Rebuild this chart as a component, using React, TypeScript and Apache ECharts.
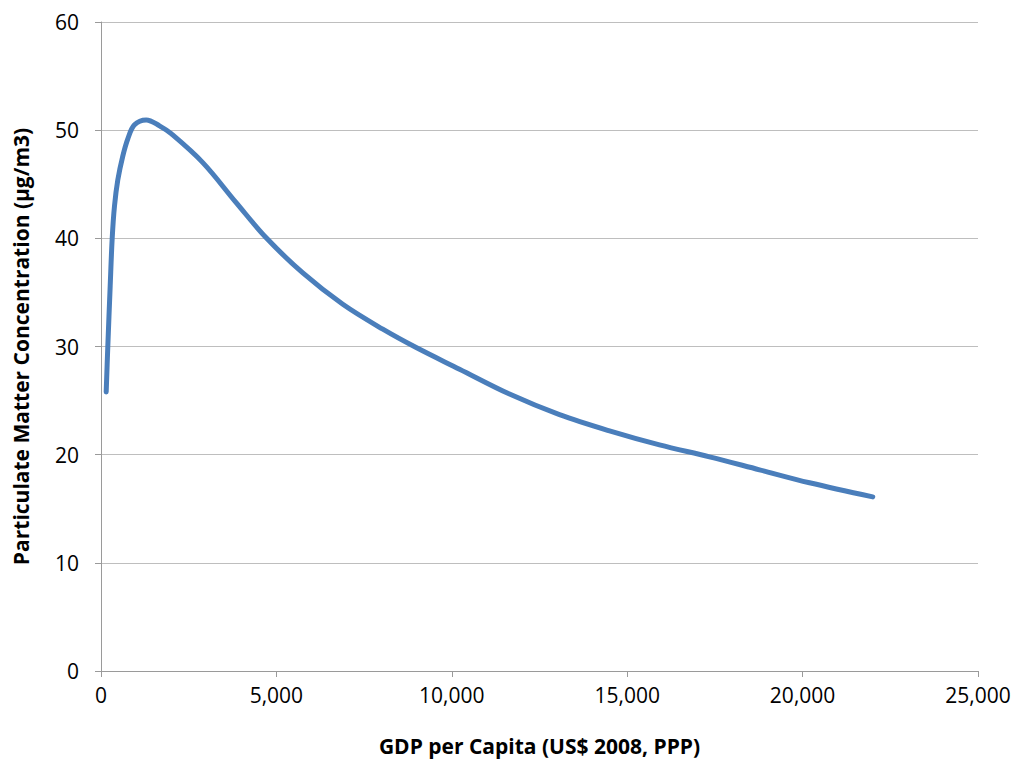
import React, { useEffect, useRef } from "react";
import * as echarts from "echarts";

const gdpPerCapita = [148, 194, 262, 319, 385, 479, 621, 764, 955, 1288, 1668, 2010, 2902, 3853, 4709, 5753, 6893, 8033, 8985, 10220, 11645, 13070, 14496, 15921, 17346, 18771, 20197, 22000];
const pmConcentration = [25.8, 30.0, 35.6, 40.0, 43.0, 45.4, 47.6, 49.2, 50.5, 50.95, 50.4, 49.65, 47.0, 43.3, 40.05, 36.8, 33.9, 31.6, 29.9, 27.9, 25.6, 23.7, 22.2, 20.9, 19.8, 18.6, 17.4, 16.1];

const FONT = "Open Sans";

export default function App() {
  const ref = useRef<HTMLDivElement>(null);
  useEffect(() => {
    if (!ref.current) return;
    const chart = echarts.init(ref.current, null, { renderer: "svg" });
    chart.setOption({
      animation: false,
      backgroundColor: "#ffffff",
      grid: { left: 101, right: 38, top: 22, bottom: 95 },
      xAxis: {
        type: "value",
        min: 0,
        max: 25000,
        interval: 5000,
        name: "GDP per Capita (US$ 2008, PPP)",
        nameLocation: "middle",
        nameGap: 64,
        nameTextStyle: { fontFamily: FONT, fontSize: 21, fontWeight: "bold", color: "#000" },
        axisLine: { show: true, lineStyle: { color: "#9a9a9a", width: 1 } },
        axisTick: { show: true, length: 6, lineStyle: { color: "#9a9a9a" } },
        axisLabel: {
          fontFamily: FONT,
          fontSize: 21,
          color: "#000",
          margin: 13,
          formatter: (v: number) => v.toLocaleString("en-US"),
        },
        splitLine: { show: false },
      },
      yAxis: {
        type: "value",
        min: 0,
        max: 60,
        interval: 10,
        name: "Particulate Matter Concentration (μg/m3)",
        nameLocation: "middle",
        nameGap: 70,
        nameTextStyle: { fontFamily: FONT, fontSize: 21, fontWeight: "bold", color: "#000" },
        axisLine: { show: true, lineStyle: { color: "#9a9a9a", width: 1 } },
        axisTick: { show: true, length: 6, lineStyle: { color: "#9a9a9a" } },
        axisLabel: { fontFamily: FONT, fontSize: 21, color: "#000", margin: 22 },
        splitLine: { show: true, lineStyle: { color: "#bebebe", width: 1 } },
      },
      series: [
        {
          type: "line",
          data: gdpPerCapita.map((x, i) => [x, pmConcentration[i]]),
          smooth: 0.35,
          symbol: "none",
          lineStyle: { color: "#4a7ebb", width: 5, cap: "round", join: "round" },
        },
      ],
    });
    return () => chart.dispose();
  }, []);
  return <div ref={ref} style={{ position: "fixed", left: 0, top: 0, width: 1016, height: 766 }} />;
}
